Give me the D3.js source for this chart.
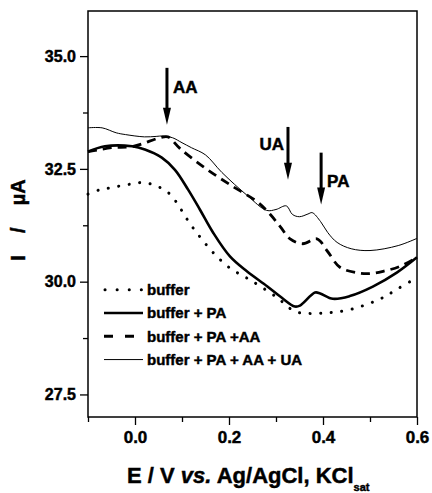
<!DOCTYPE html>
<html>
<head>
<meta charset="utf-8">
<script src="https://cdn.jsdelivr.net/npm/d3@7"></script>
<style>
  body { margin: 0; background: #fff; }
  svg { font-family: "Liberation Sans", Arial, sans-serif; font-weight: bold; }
  svg text { stroke: #000; stroke-width: 0.45px; }
</style>
</head>
<body>
<svg id="chart" width="432" height="493"></svg>
<script>
// buffer (dotted)
var bufferX = [-0.1, -0.074, -0.053, -0.028, -0.004, 0.019, 0.043, 0.068, 0.089, 0.106, 0.123, 0.143, 0.164, 0.185, 0.206, 0.228, 0.251, 0.302, 0.34, 0.366, 0.394, 0.421, 0.457, 0.494, 0.528, 0.557, 0.6];
var bufferY = [31.94, 32.04, 32.08, 32.13, 32.17, 32.2, 32.13, 32.0, 31.75, 31.46, 31.2, 30.93, 30.67, 30.45, 30.27, 30.14, 30.0, 29.65, 29.34, 29.3, 29.3, 29.32, 29.38, 29.5, 29.65, 29.83, 30.09];

// buffer + PA (thick solid)
var paX = [-0.1, -0.064, -0.006, 0.021, 0.057, 0.085, 0.113, 0.138, 0.166, 0.202, 0.238, 0.281, 0.309, 0.34, 0.351, 0.383, 0.394, 0.421, 0.457, 0.506, 0.557, 0.6];
var paY = [32.88, 33.0, 33.0, 32.93, 32.75, 32.48, 32.04, 31.6, 31.09, 30.56, 30.23, 29.9, 29.67, 29.45, 29.47, 29.76, 29.74, 29.62, 29.68, 29.89, 30.2, 30.54];

// buffer + PA + AA (dashed)
var paAaX = [-0.1, -0.05, -0.004, 0.053, 0.07, 0.096, 0.145, 0.202, 0.26, 0.287, 0.309, 0.33, 0.357, 0.387, 0.409, 0.436, 0.472, 0.5, 0.528, 0.564, 0.6];
var paAaY = [32.88, 32.97, 33.0, 33.19, 33.21, 32.95, 32.55, 32.15, 31.77, 31.5, 31.22, 30.95, 30.84, 30.95, 30.68, 30.32, 30.2, 30.18, 30.23, 30.34, 30.54];

// buffer + PA + AA + UA (thin solid)
var allX = [-0.1, -0.07, -0.04, -0.02, 0.02, 0.045, 0.06, 0.08, 0.1, 0.12, 0.15, 0.185, 0.24, 0.28, 0.3, 0.322, 0.335, 0.35, 0.368, 0.377, 0.395, 0.41, 0.43, 0.46, 0.5, 0.56, 0.6];
var allY = [33.41, 33.41, 33.3, 33.26, 33.21, 33.22, 33.23, 33.19, 33.08, 32.97, 32.81, 32.42, 31.9, 31.58, 31.6, 31.68, 31.49, 31.44, 31.5, 31.53, 31.33, 31.09, 30.87, 30.73, 30.69, 30.8, 30.96];

var legendLabels = ["buffer", "buffer + PA", "buffer + PA +AA", "buffer + PA + AA + UA"];

var xTicks = [-0.1, 0.0, 0.1, 0.2, 0.3, 0.4, 0.5, 0.6];
var xTickLabels = ["", "0.0", "", "0.2", "", "0.4", "", "0.6"];
var yTicks = [27.5, 28.75, 30.0, 31.25, 32.5, 33.75, 35.0];
var yTickLabels = ["27.5", "", "30.0", "", "32.5", "", "35.0"];

// arrow annotations
var arrowLabels = ["AA", "UA", "PA"];
var arrowX = [0.068, 0.3255, 0.396];
var arrowTop = [34.74, 33.43, 32.86];
var arrowTip = [33.48, 32.26, 31.71];

var margin = {top: 11, right: 15, bottom: 76, left: 88},
    width = 432 - margin.left - margin.right,
    height = 493 - margin.top - margin.bottom;

var svg = d3.select("#chart");
var g = svg.append("g").attr("transform", "translate(" + margin.left + "," + margin.top + ")");

var x = d3.scaleLinear().domain([-0.1, 0.6]).range([0, width]);
var y = d3.scaleLinear().domain([27.0, 36.0]).range([height, 0]);

// axes
var xAxis = g.append("g")
    .attr("transform", "translate(0," + height + ")")
    .call(d3.axisBottom(x).tickValues(xTicks)
      .tickFormat(function(d, i) { return xTickLabels[i]; })
      .tickSizeOuter(0).tickPadding(4));
xAxis.selectAll("line").attr("y2", function(d, i) { return xTickLabels[i] ? 8 : 5; });
xAxis.selectAll("text").style("font-size", "17px").style("font-weight", "bold").attr("dy", "0.95em");

var yAxis = g.append("g")
    .call(d3.axisLeft(y).tickValues(yTicks)
      .tickFormat(function(d, i) { return yTickLabels[i]; })
      .tickSizeOuter(0).tickPadding(4));
yAxis.selectAll("line").attr("x2", function(d, i) { return yTickLabels[i] ? -8 : -5; });
yAxis.selectAll("text").style("font-size", "16px").style("font-weight", "bold").attr("x", -12);

svg.selectAll(".domain").remove();
svg.selectAll(".tick line").attr("stroke", "#000").attr("stroke-width", 1.3);
svg.selectAll(".tick text").attr("fill", "#000");

g.append("rect")
    .attr("width", width).attr("height", height)
    .attr("fill", "none").attr("stroke", "#000").attr("stroke-width", 1.5);

// curves
var series = [
  {xs: bufferX, ys: bufferY, w: 3, dash: "0.1,10.5"},
  {xs: paX, ys: paY, w: 2.6, dash: null},
  {xs: paAaX, ys: paAaY, w: 2.8, dash: "9,6"},
  {xs: allX, ys: allY, w: 1, dash: null}
];

var line = d3.line()
    .x(function(d) { return x(d[0]); })
    .y(function(d) { return y(d[1]); })
    .curve(d3.curveCatmullRom.alpha(0.5));

var plot = g.append("g");
series.forEach(function(s) {
  var pts = s.xs.map(function(v, i) { return [v, s.ys[i]]; });
  plot.append("path")
      .datum(pts)
      .attr("d", line)
      .attr("fill", "none")
      .attr("stroke", "#000")
      .attr("stroke-width", s.w)
      .attr("stroke-linecap", s.dash && s.dash.indexOf("0.1") === 0 ? "round" : "butt")
      .attr("stroke-dasharray", s.dash);
});

// arrows
arrowLabels.forEach(function(lab, i) {
  var ax = x(arrowX[i]), y0 = y(arrowTop[i]), y1 = y(arrowTip[i]);
  g.append("line")
      .attr("x1", ax).attr("x2", ax)
      .attr("y1", y0).attr("y2", y1 - 14)
      .attr("stroke", "#000").attr("stroke-width", 3);
  g.append("path")
      .attr("d", "M" + (ax - 4) + "," + (y1 - 17) + "L" + (ax + 4) + "," + (y1 - 17) + "L" + ax + "," + y1 + "Z")
      .attr("fill", "#000");
  var t = g.append("text")
      .attr("y", (y0 + y1) / 2 + (lab === "PA" ? 2 : -9))
      .attr("dy", "0.35em")
      .style("font-size", "17px");
  if (lab === "UA") t.attr("x", ax - 4).attr("text-anchor", "end");
  else t.attr("x", ax + 6);
  t.text(lab);
});

// legend
var legend = g.append("g").attr("transform", "translate(16," + (y(30.0) + 8) + ")");
legendLabels.forEach(function(lab, i) {
  var s = series[i];
  var dotted = s.dash && s.dash.indexOf("0.1") === 0;
  var row = legend.append("g").attr("transform", "translate(0," + (i * 23.3) + ")");
  row.append("line")
      .attr("x1", dotted ? 1 : 0).attr("x2", 39)
      .attr("stroke", "#000")
      .attr("stroke-width", s.w)
      .attr("stroke-linecap", dotted ? "round" : "butt")
      .attr("stroke-dasharray", dotted ? "0.1,12" : (s.dash ? "9,12" : null));
  row.append("text")
      .attr("x", 43).attr("dy", "0.35em")
      .style("font-size", "15px")
      .text(lab);
});

// axis titles
var xt = svg.append("text")
    .attr("x", 127).attr("y", 483)
    .style("font-size", "22px");
xt.append("tspan").text("E / V ");
xt.append("tspan").style("font-style", "italic").text("vs.");
xt.append("tspan").text(" Ag/AgCl, KCl");
xt.append("tspan").attr("dy", 8).style("font-size", "11px").text("sat");

svg.append("text")
    .attr("transform", "translate(25,220) rotate(-90)")
    .attr("text-anchor", "middle")
    .style("font-size", "20px")
    .style("white-space", "pre")
    .text("I    /    \u00b5A");
</script>
</body>
</html>
